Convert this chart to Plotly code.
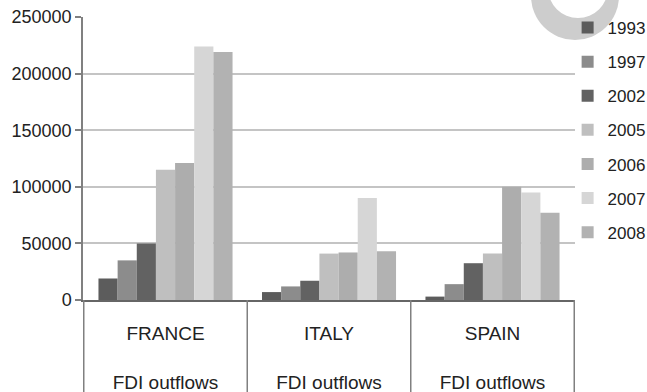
import plotly.graph_objects as go

# FDI outflows by country and year
countries = ["FRANCE", "ITALY", "SPAIN"]
years = ["1993", "1997", "2002", "2005", "2006", "2007", "2008"]
france = [19000, 35000, 50000, 115000, 121000, 224000, 219000]
italy = [7000, 12000, 17000, 41000, 42000, 90000, 43000]
spain = [3000, 14000, 32500, 41000, 100000, 95000, 77000]
category_labels = [c + "<br><br>FDI outflows" for c in countries]

year_colors = ["#5c5c5c", "#8c8c8c", "#626262", "#bfbfbf", "#adadad", "#d6d6d6", "#b2b2b2"]

FONT = "Liberation Sans, Arial, sans-serif"
TEXT = "#222222"
AXIS = "#808080"

fig = go.Figure()
for i, year in enumerate(years):
    fig.add_trace(go.Bar(
        name=year,
        x=countries,
        y=[france[i], italy[i], spain[i]],
        marker=dict(color=year_colors[i], line=dict(width=0)),
        legendgroup=year,
    ))

# vertical separators running down through the category label band
for k in range(len(countries) + 1):
    fig.add_shape(type="line", xref="x", yref="paper",
                  x0=k - 0.5, x1=k - 0.5, y0=0, y1=-0.35,
                  line=dict(color=AXIS, width=1.5), layer="above")

# light grey ring in the top-right corner
fig.add_shape(type="circle", xref="paper", yref="paper",
              x0=0.9106, x1=1.0894, y0=0.9187, y1=1.2297,
              fillcolor="#cdcdcd", line=dict(width=0), layer="below")
fig.add_shape(type="circle", xref="paper", yref="paper",
              x0=0.9451, x1=1.0671, y0=0.9965, y1=1.2085,
              fillcolor="#ffffff", line=dict(width=0), layer="below")

fig.update_layout(
    width=647, height=392,
    margin=dict(l=83, r=72, t=17, b=92, autoexpand=False),
    paper_bgcolor="white",
    plot_bgcolor="rgba(0,0,0,0)",
    barmode="group",
    bargap=0.18,
    bargroupgap=0,
    font=dict(family=FONT, size=18, color=TEXT),
    showlegend=True,
    legend=dict(
        x=0.985, xanchor="left",
        yref="container", y=0.9745, yanchor="top",
        maxheight=380,
        bgcolor="rgba(0,0,0,0)",
        font=dict(family=FONT, size=17, color=TEXT),
        tracegroupgap=9,
        itemclick=False,
    ),
)

fig.update_yaxes(
    range=[0, 250000], dtick=50000, tickformat="d",
    showgrid=True, gridcolor="#c4c4c4", gridwidth=1.5,
    zeroline=False,
    showline=True, linecolor=AXIS, linewidth=1.5,
    ticks="outside", ticklen=6, tickcolor=AXIS, tickwidth=1.5,
    tickfont=dict(family=FONT, size=18, color=TEXT),
    automargin=False,
)
fig.update_xaxes(
    type="category",
    tickmode="array", tickvals=countries, ticktext=category_labels,
    showline=True, linecolor="#666666", linewidth=1.5,
    ticks="", showgrid=False,
    ticklabelstandoff=15,
    tickfont=dict(family=FONT, size=19, color=TEXT),
    automargin=False,
)

fig.write_html("out.html")
